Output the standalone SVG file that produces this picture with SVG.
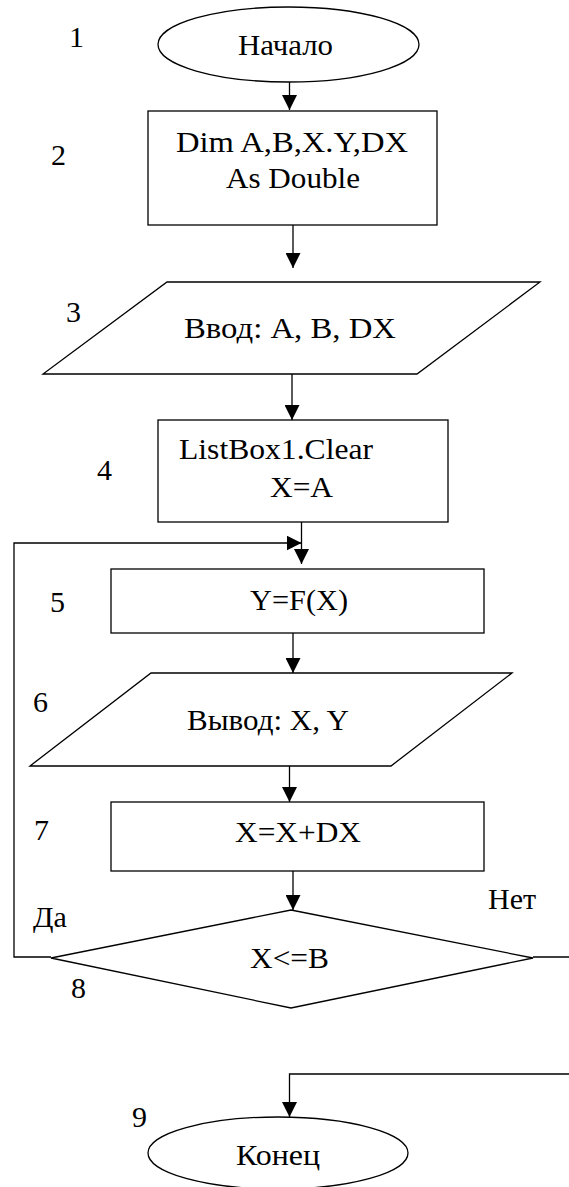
<svg xmlns="http://www.w3.org/2000/svg" width="569" height="1187" viewBox="0 0 569 1187" font-family="'Liberation Serif', 'DejaVu Serif', serif">
<style>
.shape{fill:#fff;stroke:#000;stroke-width:1.3}
.conn{fill:none;stroke:#000;stroke-width:1.3}
.t{font-size:30px;text-anchor:middle;fill:#000}
.ts{font-size:30px;fill:#000}
.lbl{font-size:30px;fill:#000}
</style>
<defs>
<marker id="ah" markerUnits="userSpaceOnUse" markerWidth="15" markerHeight="15" refX="15" refY="7.5" orient="auto">
<path d="M0,0 L15,7.5 L0,15 z" fill="#000"/>
</marker>
</defs>
<rect width="569" height="1187" fill="#fff"/>
<g id="connectors">
<path class="conn" d="M289.5,82 V110" marker-end="url(#ah)"/>
<path class="conn" d="M293,225 V268" marker-end="url(#ah)"/>
<path class="conn" d="M292,374 V420" marker-end="url(#ah)"/>
<path class="conn" d="M301.5,522 V564" marker-end="url(#ah)"/>
<path class="conn" d="M51,957 H14 V543 H301.5" marker-end="url(#ah)"/>
<path class="conn" d="M293,633 V673" marker-end="url(#ah)"/>
<path class="conn" d="M289.5,766 V802" marker-end="url(#ah)"/>
<path class="conn" d="M293,871 V910" marker-end="url(#ah)"/>
<path class="conn" d="M533,957 H569"/>
<path class="conn" d="M569,1074 H289.5 V1117" marker-end="url(#ah)"/>
</g>
<g id="n1">
<ellipse class="shape" cx="288.5" cy="44.5" rx="130.5" ry="37.5"/>
<text class="t" x="285.5" y="55" textLength="95" lengthAdjust="spacingAndGlyphs">Начало</text>
<text class="lbl" x="69" y="47">1</text>
</g>
<g id="n2">
<rect class="shape" x="148" y="111" width="289" height="114"/>
<text class="t" x="292" y="151.5" textLength="232" lengthAdjust="spacingAndGlyphs">Dim A,B,X.Y,DX</text>
<text class="t" x="293" y="188" textLength="134" lengthAdjust="spacingAndGlyphs">As Double</text>
<text class="lbl" x="51" y="165">2</text>
</g>
<g id="n3">
<polygon class="shape" points="167,282 540,282 417,374 43,374"/>
<text class="t" x="290" y="338" textLength="212" lengthAdjust="spacingAndGlyphs">Ввод: A, B, DX</text>
<text class="lbl" x="66" y="322">3</text>
</g>
<g id="n4">
<rect class="shape" x="158" y="420" width="290" height="102"/>
<text class="ts" x="179" y="459" textLength="194" lengthAdjust="spacingAndGlyphs">ListBox1.Clear</text>
<text class="ts" x="270" y="497" textLength="63" lengthAdjust="spacingAndGlyphs">X=A</text>
<text class="lbl" x="97" y="480">4</text>
</g>
<g id="n5">
<rect class="shape" x="111" y="569" width="373" height="64"/>
<text class="t" x="299" y="610" textLength="98" lengthAdjust="spacingAndGlyphs">Y=F(X)</text>
<text class="lbl" x="50" y="612">5</text>
</g>
<g id="n6">
<polygon class="shape" points="151,673 512,673 391,766 30,766"/>
<text class="t" x="268" y="730" textLength="162" lengthAdjust="spacingAndGlyphs">Вывод: X, Y</text>
<text class="lbl" x="33" y="712">6</text>
</g>
<g id="n7">
<rect class="shape" x="111" y="802" width="373" height="69"/>
<text class="t" x="298" y="842" textLength="126" lengthAdjust="spacingAndGlyphs">X=X+DX</text>
<text class="lbl" x="34" y="840">7</text>
</g>
<g id="n8">
<polygon class="shape" points="291,910 533,958 291,1008 51,958"/>
<text class="t" x="289.5" y="968" textLength="79" lengthAdjust="spacingAndGlyphs">X&lt;=B</text>
<text class="lbl" x="71" y="998">8</text>
<text class="lbl" x="33" y="927">Да</text>
<text class="lbl" x="488" y="909">Нет</text>
</g>
<g id="n9">
<ellipse class="shape" cx="278" cy="1153" rx="130" ry="36"/>
<text class="t" x="278" y="1165" textLength="84" lengthAdjust="spacingAndGlyphs">Конец</text>
<text class="lbl" x="132" y="1127">9</text>
</g>
</svg>
